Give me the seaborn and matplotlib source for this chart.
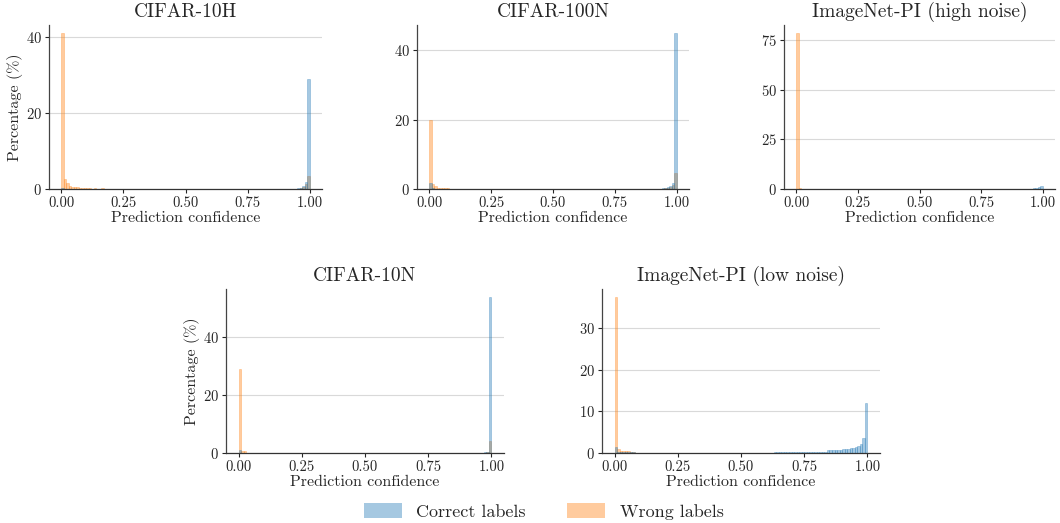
import matplotlib
matplotlib.use("Agg")
import matplotlib.pyplot as plt
from matplotlib.patches import Patch
from matplotlib.ticker import MultipleLocator
import numpy as np
import pandas as pd
import seaborn as sns

# Histogram bins: 100 bins of width 0.01 on [0, 1]; values are % of samples per bin
BIN_EDGES = [round(i * 0.01, 2) for i in range(101)]
LABELS = ["Correct labels", "Wrong labels"]
COLORS = ["#1f77b4", "#ff7f0e"]

# CIFAR-10H
C10H_CORRECT_BIN = [0, 95, 96, 97, 98, 99]
C10H_CORRECT_PCT = [0.3, 0.3, 0.3, 0.8, 1.8, 28.8]
C10H_WRONG_BIN = [0, 1, 2, 3, 4, 5, 6, 7, 8, 9, 10, 11, 13, 16, 96, 97, 98, 99]
C10H_WRONG_PCT = [41.0, 2.5, 1.5, 0.8, 0.5, 0.4, 0.4, 0.3, 0.3, 0.3, 0.3, 0.3, 0.3, 0.3, 0.3, 0.6, 1.2, 3.3]

# CIFAR-100N
C100N_CORRECT_BIN = [0, 1, 94, 95, 96, 97, 98, 99]
C100N_CORRECT_PCT = [1.7, 0.3, 0.3, 0.3, 0.5, 0.8, 1.8, 45.0]
C100N_WRONG_BIN = [0, 1, 2, 3, 4, 5, 6, 7, 95, 96, 97, 98, 99]
C100N_WRONG_PCT = [20.0, 1.3, 0.8, 0.4, 0.4, 0.4, 0.3, 0.3, 0.2, 0.4, 0.6, 1.1, 4.5]

# ImageNet-PI (high noise)
INPI_HIGH_CORRECT_BIN = [96, 97, 98, 99]
INPI_HIGH_CORRECT_PCT = [0.7, 0.7, 0.8, 1.5]
INPI_HIGH_WRONG_BIN = [0, 1]
INPI_HIGH_WRONG_PCT = [78.7, 0.6]

# CIFAR-10N
C10N_CORRECT_BIN = [0, 97, 98, 99]
C10N_CORRECT_PCT = [1.2, 0.4, 0.5, 53.8]
C10N_WRONG_BIN = [0, 1, 2, 98, 99]
C10N_WRONG_PCT = [29.0, 0.6, 0.6, 0.3, 4.2]

# ImageNet-PI (low noise)
INPI_LOW_CORRECT_BIN = [0, 1, 2, 3, 4, 5, 6, 7,
                        63, 64, 65, 66, 67, 68, 69, 70, 71, 72, 73, 74, 75, 76, 77, 78, 79, 80, 81, 82, 83,
                        84, 85, 86, 87, 88, 89, 90, 91, 92, 93, 94, 95, 96, 97, 98, 99]
INPI_LOW_CORRECT_PCT = [1.5, 0.3, 0.3, 0.3, 0.3, 0.3, 0.3, 0.3,
                        0.32, 0.32, 0.32, 0.32, 0.32, 0.32, 0.32, 0.32, 0.32, 0.32, 0.32, 0.32, 0.32, 0.32,
                        0.32, 0.32, 0.32, 0.32, 0.32, 0.32, 0.32,
                        0.64, 0.64, 0.64, 0.64, 0.64, 0.64, 0.9, 0.9, 0.9, 1.2, 1.2, 1.4, 1.7, 2.2, 3.7, 12.1]
INPI_LOW_WRONG_BIN = [0, 1, 2, 3, 4, 5, 6, 7]
INPI_LOW_WRONG_PCT = [37.5, 1.0, 0.6, 0.4, 0.4, 0.4, 0.3, 0.3]

PANELS = [
    ("CIFAR-10H", C10H_CORRECT_BIN, C10H_CORRECT_PCT, C10H_WRONG_BIN, C10H_WRONG_PCT, 20),
    ("CIFAR-100N", C100N_CORRECT_BIN, C100N_CORRECT_PCT, C100N_WRONG_BIN, C100N_WRONG_PCT, 20),
    ("ImageNet-PI (high noise)", INPI_HIGH_CORRECT_BIN, INPI_HIGH_CORRECT_PCT,
     INPI_HIGH_WRONG_BIN, INPI_HIGH_WRONG_PCT, 25),
    ("CIFAR-10N", C10N_CORRECT_BIN, C10N_CORRECT_PCT, C10N_WRONG_BIN, C10N_WRONG_PCT, 20),
    ("ImageNet-PI (low noise)", INPI_LOW_CORRECT_BIN, INPI_LOW_CORRECT_PCT,
     INPI_LOW_WRONG_BIN, INPI_LOW_WRONG_PCT, 10),
]

# axes boxes in pixels (left, top, right, bottom) on a 1060x523 canvas
W, H = 1060, 523
BOXES = [
    (49, 25, 322, 189),
    (417, 25, 689, 189),
    (784, 25, 1055, 189),
    (226, 289, 504, 453),
    (602, 289, 880, 453),
]


def build_frame(c_bins, c_pct, w_bins, w_pct) -> pd.DataFrame:
    edges = np.array(BIN_EDGES)
    centers = (edges[:-1] + edges[1:]) / 2
    rows = []
    for b, p in zip(c_bins, c_pct):
        rows.append({"confidence": centers[b], "pct": p, "label": LABELS[0]})
    for b, p in zip(w_bins, w_pct):
        rows.append({"confidence": centers[b], "pct": p, "label": LABELS[1]})
    return pd.DataFrame(rows)


def main() -> None:
    sns.set_theme(style="white")
    plt.rcParams["font.family"] = ["cmr10", "DejaVu Serif"]
    plt.rcParams["axes.formatter.use_mathtext"] = True
    plt.rcParams["mathtext.fontset"] = "cm"

    fig = plt.figure(figsize=(W / 100, H / 100), dpi=100)

    for i, (title, cb, cp, wb, wp, step) in enumerate(PANELS):
        l, t, r, b = BOXES[i]
        ax = fig.add_axes([l / W, 1 - b / H, (r - l) / W, (b - t) / H])
        df = build_frame(cb, cp, wb, wp)
        sns.histplot(
            data=df, x="confidence", weights="pct", hue="label",
            hue_order=LABELS, palette=COLORS, bins=BIN_EDGES,
            alpha=0.4, linewidth=0.5, legend=False, ax=ax,
        )
        # bar outlines in the bar colour (darker where they overlap)
        for p in ax.patches:
            p.set_edgecolor(p.get_facecolor())

        ax.set_title(title, fontsize=14, pad=6)
        ax.set_xlabel("Prediction confidence", fontsize=11.5, labelpad=1)
        if i in (0, 3):
            ax.set_ylabel("Percentage (%)", fontsize=11.5, labelpad=2)
        else:
            ax.set_ylabel("")
        ax.set_xticks([0, 0.25, 0.5, 0.75, 1.0])
        ax.set_xticklabels(["0.00", "0.25", "0.50", "0.75", "1.00"])
        ax.yaxis.set_major_locator(MultipleLocator(step))
        ax.tick_params(axis="both", labelsize=10.5, length=3, width=0.8,
                       direction="out", bottom=True, left=True, pad=2)
        ax.set_axisbelow(True)
        ax.yaxis.grid(True, color="#d9d9d9", linewidth=0.8)
        ax.xaxis.grid(False)
        sns.despine(ax=ax)
        ax.spines["left"].set_color("#444444")
        ax.spines["bottom"].set_color("#333333")
        ax.spines["left"].set_linewidth(0.9)
        ax.spines["bottom"].set_linewidth(0.9)

    handles = [Patch(facecolor=c, alpha=0.4, edgecolor="none") for c in COLORS]
    fig.legend(handles, LABELS, loc="lower center", ncol=2, frameon=False,
               fontsize=13, handlelength=2.1, handleheight=0.9,
               columnspacing=2.3, handletextpad=0.8,
               bbox_to_anchor=(0.513, -0.025))

    fig.savefig("out.png", dpi=100)


if __name__ == "__main__":
    main()
